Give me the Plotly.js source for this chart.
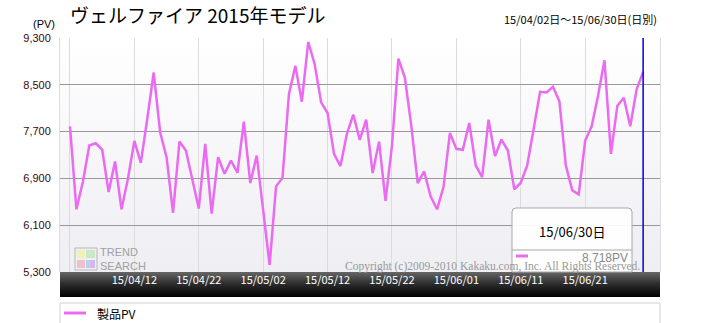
<!DOCTYPE html>
<html><head><meta charset="utf-8">
<script src="https://cdn.plot.ly/plotly-3.0.1.min.js"></script>
<style>html,body{margin:0;padding:0;background:#fff;}#chart{width:720px;height:323px;}</style>
</head><body><div id="chart"></div>
<script>
const startDate = '2015-04-02';
const values = [7790,6372,6838,7462,7501,7394,6667,7189,6372,6894,
7541,7167,7916,8710,7689,7263,6310,7530,7377,6880,
6384,7490,6298,7263,6979,7206,6996,7870,6820,7291,
6355,5420,6764,6911,8341,8823,8211,9232,8852,8199,
8018,7320,7110,7660,7989,7558,7904,6991,7530,6514,
7462,8948,8625,7802,6820,7019,6593,6372,6752,7677,
7405,7388,7847,7121,6923,7904,7280,7564,7377,6713,
6826,7121,7745,8381,8370,8466,8216,7121,6696,6628,
7547,7785,8313,8920,7320,8143,8279,7791,8426,8718];
const tickDates = ['2015-04-02','2015-04-12','2015-04-22','2015-05-02','2015-05-12','2015-05-22','2015-06-01','2015-06-11','2015-06-21'];
const tickLabels = ['','15/04/12','15/04/22','15/05/02','15/05/12','15/05/22','15/06/01','15/06/11','15/06/21'];
const yTicks = [5300,6100,6900,7700,8500,9300];
const seriesName = '製品PV';
const chartTitle = 'ヴェルファイア 2015年モデル';
const rangeText = '15/04/02日～15/06/30日(日別)';
const cursorDate = '2015-06-30';
const cursorLabel = '15/06/30日';

const dates = [];
{ const d0 = new Date(startDate + 'T00:00:00Z');
  for (let i = 0; i < values.length; i++) { const d = new Date(d0.getTime() + i*86400000); dates.push(d.toISOString().slice(0,10)); } }

function grad(stops){
  const s = stops.map(([o,c])=>`<stop offset="${o}" stop-color="${c}"/>`).join('');
  const svg = `<svg xmlns="http://www.w3.org/2000/svg" width="100" height="100" viewBox="0 0 100 100" preserveAspectRatio="none"><defs><linearGradient id="g" x1="0" y1="0" x2="0" y2="1">${s}</linearGradient></defs><rect width="100" height="100" fill="url(#g)"/></svg>`;
  return 'data:image/svg+xml;charset=utf-8,' + encodeURIComponent(svg);
}
const H = 234, W = 600;
const py = y => (272 - y) / H;
const px = x => (x - 60) / W;

const lineColor = '#ea6af2';
const jp = '"Noto Sans CJK JP", "Noto Sans", sans-serif';

const bx0 = px(512), bx1 = px(632), by1 = py(208), by0 = 0;
const rx = 4/W, ry = 4/H;
const boxPath = `M ${bx0} ${by0} L ${bx0} ${by1-ry} Q ${bx0} ${by1} ${bx0+rx} ${by1} L ${bx1-rx} ${by1} Q ${bx1} ${by1} ${bx1} ${by1-ry} L ${bx1} ${by0} Z`;

const lastVal = values[values.length-1];

const shapes = [
  {type:'line', xref:'x', yref:'paper', x0:cursorDate, x1:cursorDate, y0:0, y1:1, line:{color:'#0000e0', width:1.5}},
  {type:'path', xref:'paper', yref:'paper', path:boxPath, fillcolor:'rgba(255,255,255,0.92)', line:{color:'#a8a8a8', width:1}},
  {type:'line', xref:'paper', yref:'paper', x0:bx0, x1:bx1, y0:py(250), y1:py(250), line:{color:'#a8a8a8', width:1}},
  {type:'line', xref:'paper', yref:'paper', x0:px(516), x1:px(528), y0:py(256), y1:py(256), line:{color:lineColor, width:3}},
  // legend box and sample
  {type:'rect', xref:'paper', yref:'paper', x0:0, x1:1, y0:py(326), y1:py(303), line:{color:'#d0d0d0', width:1}, fillcolor:'rgba(0,0,0,0)'},
  {type:'line', xref:'paper', yref:'paper', x0:px(64), x1:px(86), y0:py(313), y1:py(313), line:{color:lineColor, width:3}},
  // trend search icon
  {type:'rect', xref:'paper', yref:'paper', x0:px(75), x1:px(97), y0:py(270), y1:py(248), line:{color:'#b8b8b8', width:1}, fillcolor:'rgba(240,240,240,0.6)'},
  {type:'rect', xref:'paper', yref:'paper', x0:px(77), x1:px(85), y0:py(258), y1:py(250), line:{width:0}, fillcolor:'rgba(240,240,170,0.8)'},
  {type:'rect', xref:'paper', yref:'paper', x0:px(86), x1:px(95), y0:py(258), y1:py(250), line:{width:0}, fillcolor:'rgba(190,230,190,0.8)'},
  {type:'rect', xref:'paper', yref:'paper', x0:px(77), x1:px(85), y0:py(268), y1:py(260), line:{width:0}, fillcolor:'rgba(240,180,190,0.8)'},
  {type:'rect', xref:'paper', yref:'paper', x0:px(86), x1:px(90), y0:py(268), y1:py(260), line:{width:0}, fillcolor:'rgba(170,200,240,0.8)'},
  {type:'rect', xref:'paper', yref:'paper', x0:px(90), x1:px(95), y0:py(268), y1:py(260), line:{width:0}, fillcolor:'rgba(200,170,240,0.8)'}
];

const annotations = [
  {xref:'paper', yref:'paper', x:px(68), y:py(15), xanchor:'left', yanchor:'middle', showarrow:false, text:chartTitle, font:{family:jp, size:19, color:'#000'}},
  {xref:'paper', yref:'paper', x:px(57), y:py(24), xanchor:'right', yanchor:'middle', showarrow:false, text:'(PV)', font:{family:'Liberation Sans, sans-serif', size:11, color:'#000'}},
  {xref:'paper', yref:'paper', x:px(659), y:py(19), xanchor:'right', yanchor:'middle', showarrow:false, text:rangeText, font:{family:jp, size:11, color:'#000'}},
  {xref:'paper', yref:'paper', x:px(572), y:py(231), xanchor:'center', yanchor:'middle', showarrow:false, text:cursorLabel, font:{family:jp, size:13, color:'#000'}},
  {xref:'paper', yref:'paper', x:px(630), y:py(258), xanchor:'right', yanchor:'middle', showarrow:false, text:lastVal.toLocaleString('en-US')+'PV', font:{family:'Liberation Sans, sans-serif', size:12, color:'#888'}},
  {xref:'paper', yref:'paper', x:px(98), y:py(259), xanchor:'left', yanchor:'middle', showarrow:false, align:'left', text:'TREND<br>SEARCH', font:{family:'Liberation Sans Narrow, Liberation Sans, sans-serif', size:11, color:'#a0a0a0'}},
  {xref:'paper', yref:'paper', x:px(492), y:py(266), xanchor:'center', yanchor:'middle', showarrow:false, text:'Copyright (c)2009-2010 Kakaku.com, Inc. All Rights Reserved.', font:{family:'Liberation Serif, serif', size:11.5, color:'#999'}},
  {xref:'paper', yref:'paper', x:px(95), y:py(313), xanchor:'left', yanchor:'middle', showarrow:false, text:seriesName, font:{family:jp, size:12, color:'#000'}}
];

const images = [
  {source: grad([[0,'#ffffff'],[1,'#eeeef3']]), xref:'paper', yref:'paper', x:0, y:1, sizex:1, sizey:1, sizing:'stretch', xanchor:'left', yanchor:'top', layer:'below'},
  {source: grad([[0,'#666666'],[0.5,'#2a2a2a'],[1,'#000000']]), xref:'paper', yref:'paper', x:0, y:0, sizex:1, sizey:25/H, sizing:'stretch', xanchor:'left', yanchor:'top', layer:'below'}
];

const trace = {x:dates, y:values, type:'scatter', mode:'lines', name:seriesName, line:{color:lineColor, width:2.5}, hoverinfo:'skip'};

const layout = {
  width:720, height:323,
  margin:{l:60, r:60, t:38, b:51, pad:0},
  paper_bgcolor:'#ffffff', plot_bgcolor:'rgba(0,0,0,0)',
  showlegend:false,
  xaxis:{type:'date', range:['2015-03-31 10:48','2015-07-02 14:53'], tickvals:tickDates, ticktext:tickLabels, showgrid:true, gridcolor:'#dcdcdc', gridwidth:1, ticks:'', zeroline:false, showline:false, tickfont:{family:jp, size:11, color:'#ffffff'}, fixedrange:true},
  yaxis:{range:[5300,9300], tickvals:yTicks, tickformat:',d', showgrid:true, gridcolor:'#999999', gridwidth:1.2, zeroline:false, showline:true, mirror:true, linecolor:'#dddddd', linewidth:1, ticks:'outside', ticklen:6, tickcolor:'rgba(0,0,0,0)', tickfont:{family:'Liberation Sans, sans-serif', size:11, color:'#3a0808'}, fixedrange:true},
  shapes, annotations, images
};
Plotly.newPlot('chart', [trace], layout, {staticPlot:true, displayModeBar:false});
</script></body></html>
